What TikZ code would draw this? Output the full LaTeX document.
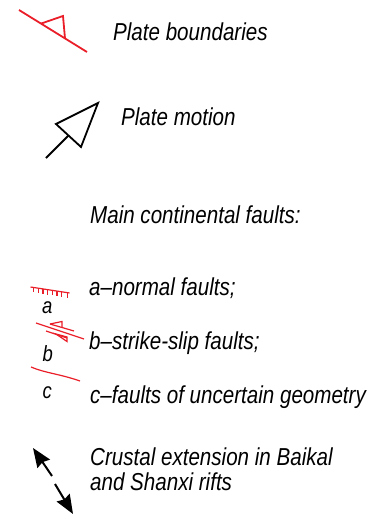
\documentclass[tikz,border=0pt]{standalone}
\usepackage{fontspec}
\setmainfont{Liberation Sans}[FakeStretch=0.84]
\usetikzlibrary{arrows.meta,calc}
\definecolor{faultred}{RGB}{234,30,40}
\tikzset{
  lbl/.style={anchor=base west, inner sep=0pt, font=\fontsize{24.5}{25}\selectfont\itshape},
  redline/.style={draw=faultred, line width=1.8pt},
  redthin/.style={draw=faultred, line width=1.2pt},
  blackline/.style={draw=black, line width=1.8pt},
  bigarrow/.style={draw=black, line width=2pt, -{Stealth[length=19pt, width=15pt, inset=2pt]}}
}
\begin{document}
\begin{tikzpicture}[x=1pt, y=-1pt]
\useasboundingbox (0,0) rectangle (369,519);
% plate boundary
\coordinate (pb1) at (19,10);
\coordinate (pb2) at (87,52);
\coordinate (pt1) at (41,23.6);
\coordinate (pt2) at (63,16);
\coordinate (pt3) at (65,38.4);
\draw[redline] (pb1) -- (pb2);
\draw[redline, line join=miter] (pt1) -- (pt2) -- (pt3);
% plate motion
\coordinate (pm1) at (46,158);
\coordinate (pm2) at (68.5,135.5);
\coordinate (ph1) at (56,124);
\coordinate (ph2) at (98,103);
\coordinate (ph3) at (81,147);
\draw[blackline] (pm1) -- (pm2);
\draw[blackline, line join=miter] (ph1) -- (ph2) -- (ph3) -- cycle;
% normal fault a
\coordinate (fa1) at (30.5,287);
\coordinate (fa2) at (69.5,293);
\draw[redthin] (fa1) -- (fa2);
\foreach \t in {0.08,0.2,0.32,0.44,0.56,0.68,0.8,0.94}{
  \draw[redthin] ($(fa1)!\t!(fa2)$) -- ++(0,5);
}
% strike-slip fault b
\coordinate (fb1) at (36,323);
\coordinate (fb2) at (84,339);
\draw[redthin] (fb1) -- (fb2);
\coordinate (fbu1) at (50,324);
\coordinate (fbu2) at (74,331);
\draw[redthin] (fbu1) -- (fbu2);
\draw[redthin] (fbu1) -- (62,321.5) -- (62,327.5);
\coordinate (fbl1) at (46,331);
\coordinate (fbl2) at (67,338);
\draw[redthin] (fbl1) -- (fbl2);
\draw[redthin] (56,334) -- (67,337) -- (67,341.5) -- cycle;
% fault c
\coordinate (fc1) at (31,367);
\coordinate (fc2) at (80,381);
\draw[redthin] (fc1) .. controls (45,373) and (60,374) .. (fc2);
% labels a b c
\node[lbl, font=\fontsize{22}{22}\selectfont\itshape] (la) at (42,313) {a};
\node[lbl, font=\fontsize{22}{22}\selectfont\itshape] (lb) at (42.5,361) {b};
\node[lbl, font=\fontsize{22}{22}\selectfont\itshape] (lc) at (42.5,398) {c};
% crustal extension arrows
\coordinate (ce1t) at (52,476);
\coordinate (ce1h) at (33,448);
\coordinate (ce2t) at (55,484);
\coordinate (ce2h) at (73,514);
\draw[bigarrow] (ce1t) -- (ce1h);
\draw[bigarrow] (ce2t) -- (ce2h);
% texts
\node[lbl] (t1) at (113,41) {Plate boundaries};
\node[lbl] (t2) at (121,125) {Plate motion};
\node[lbl] (t3) at (90,223) {Main continental faults:};
\node[lbl] (t4) at (89,295) {a–normal faults;};
\node[lbl] (t5) at (89,349) {b–strike-slip faults;};
\node[lbl] (t6) at (90,403) {c–faults of uncertain geometry};
\node[lbl] (t7) at (90,465) {Crustal extension in Baikal};
\node[lbl] (t8) at (90,490) {and Shanxi rifts};
\end{tikzpicture}
\end{document}
